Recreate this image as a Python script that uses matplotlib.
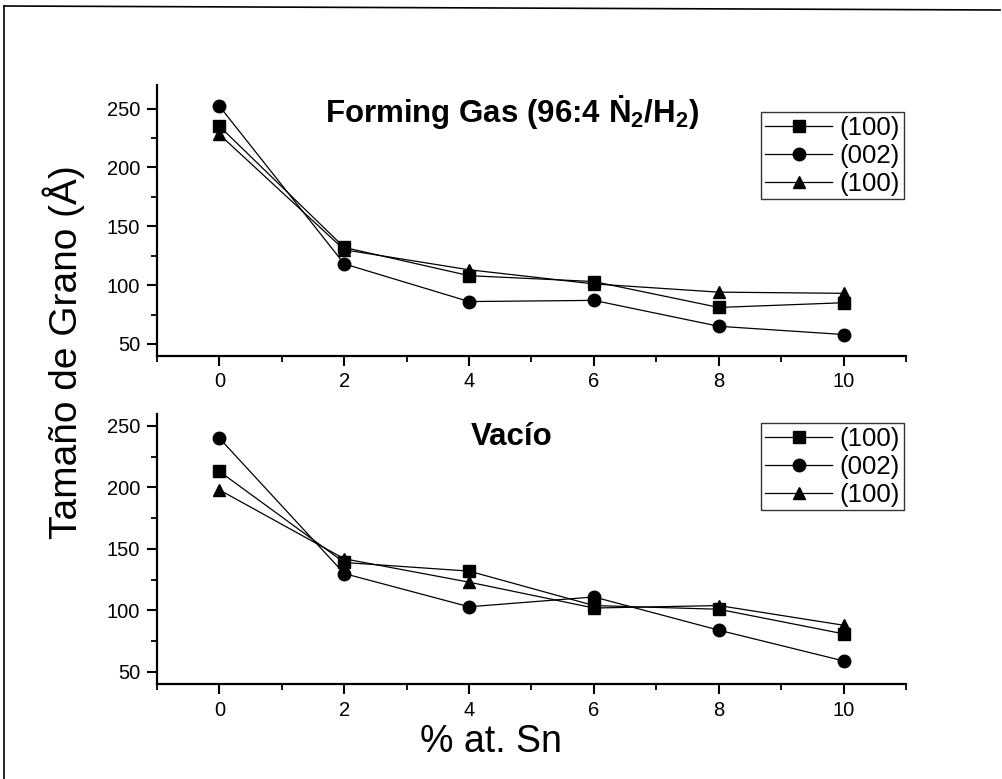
import numpy as np
import matplotlib.pyplot as plt
from matplotlib.lines import Line2D
from matplotlib.ticker import MultipleLocator

plt.rcParams['font.family'] = ['Liberation Sans', 'DejaVu Sans']
plt.rcParams['mathtext.fontset'] = 'custom'
plt.rcParams['mathtext.rm'] = 'Liberation Sans:bold'
plt.rcParams['mathtext.bf'] = 'Liberation Sans:bold'
plt.rcParams['mathtext.default'] = 'bf'

# data
sn = [0, 2, 4, 6, 8, 10]
labels = ['(100)', '(002)', '(100)']

# Forming gas
fg_100 = [235, 132, 108, 103, 81, 85]
fg_002 = [252, 118, 86, 87, 65, 58]
fg_100b = [228, 130, 113, 101, 94, 93]

# Vacio
vac_100 = [213, 139, 132, 104, 101, 81]
vac_002 = [240, 130, 103, 111, 84, 59]
vac_100b = [198, 142, 123, 102, 104, 88]

markers = ['s', 'o', '^']
msizes = [8, 9, 9]

W, H = 1003, 779
fig = plt.figure(figsize=(W / 100, H / 100), dpi=100)

ax1 = fig.add_axes([157 / W, 1 - 355.7 / H, 749 / W, 270.7 / H])
ax2 = fig.add_axes([157 / W, 1 - 684.3 / H, 749 / W, 270.7 / H])

panels = [
    (ax1, [fg_100, fg_002, fg_100b], (40, 270), 'Forming Gas (96:4 \u1E44$_2$/H$_2$)', 112, 112),
    (ax2, [vac_100, vac_002, vac_100b], (40, 260), 'Vac\u00edo', 437, 423),
]

for ax, series, ylim, title, ty, ly in panels:
    for ys, m, ms, lab in zip(series, markers, msizes, labels):
        ax.plot(sn, ys, color='black', lw=0.9, marker=m, ms=ms,
                mfc='black', mec='black', label=lab)
    ax.set_xlim(-1, 11)
    ax.set_ylim(*ylim)
    ax.xaxis.set_major_locator(MultipleLocator(2))
    ax.xaxis.set_minor_locator(MultipleLocator(1))
    ax.yaxis.set_major_locator(MultipleLocator(50))
    ax.yaxis.set_minor_locator(MultipleLocator(25))
    ax.set_yticks([50, 100, 150, 200, 250])
    ax.spines['top'].set_visible(False)
    ax.spines['right'].set_visible(False)
    for s in ['left', 'bottom']:
        ax.spines[s].set_linewidth(1.6)
    ax.tick_params(which='major', direction='out', length=7, width=1.5,
                   labelsize=14.5, pad=5)
    ax.tick_params(which='minor', direction='out', length=4, width=1.3)
    ax.text(512, H - ty, title, transform=None, ha='center', va='center',
            fontsize=22.5, fontweight='bold', family=['Liberation Sans', 'DejaVu Sans'])
    leg = ax.legend(loc='upper right', bbox_to_anchor=(904 / W, 1 - ly / H),
                    bbox_transform=fig.transFigure, fontsize=18.5, frameon=True,
                    fancybox=False, edgecolor='black', borderpad=0.15,
                    labelspacing=0.15, handlelength=2.6, handletextpad=0.3,
                    borderaxespad=0)
    leg.get_frame().set_linewidth(1.0)

fig.text(491 / W, 1 - 742 / H, '% at. Sn', ha='center', va='center', fontsize=27)
fig.text(64 / W, 1 - 352 / H, 'Tama\u00f1o de Grano (\u00c5)', rotation=90,
         ha='center', va='center', fontsize=28)

# outer frame of the scanned page
fig.add_artist(Line2D([4 / W, 4 / W], [0, 1 - 6 / H], transform=fig.transFigure,
                      color='black', lw=1.2))
fig.add_artist(Line2D([4 / W, 1000 / W], [1 - 6 / H, 1 - 10 / H], transform=fig.transFigure,
                      color='black', lw=1.2))

fig.savefig('out.png', dpi=100)
